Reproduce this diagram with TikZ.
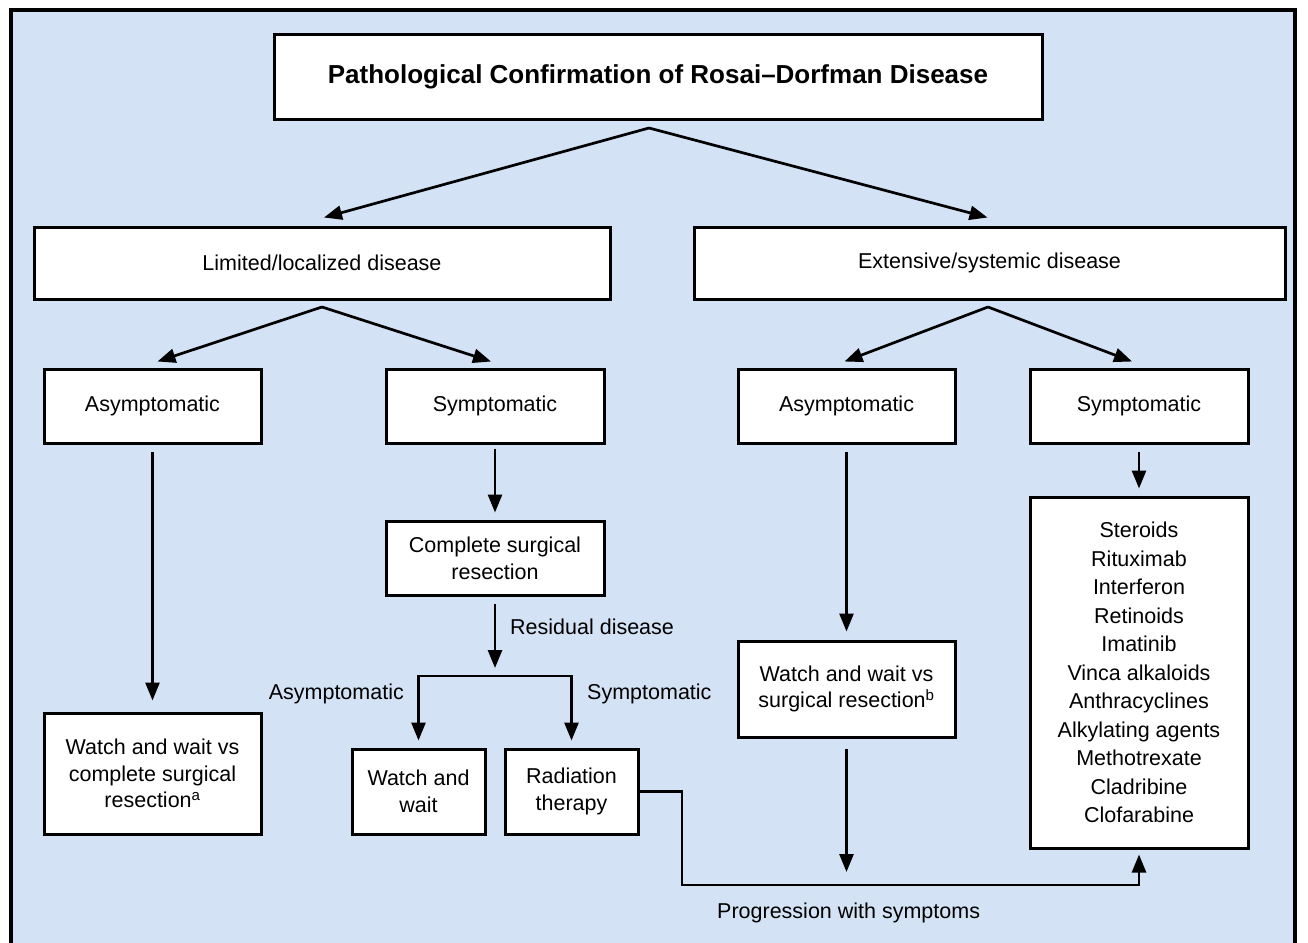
\documentclass[tikz,border=0pt]{standalone}
\usepackage{fontspec}
\setmainfont{Liberation Sans}
\usetikzlibrary{arrows.meta}
\definecolor{panelblue}{RGB}{211,226,244}

\begin{document}
\begin{tikzpicture}[x=1pt,y=-1pt,
  box/.style={draw,fill=white,line width=3pt,align=center,inner sep=0pt,
    font=\fontsize{21.5}{26.7}\selectfont},
  arr/.style={-{Triangle[length=18pt,width=14pt]},line width=2.7pt,
    shorten <=7pt,shorten >=8pt},
  diag/.style={arr,shorten <=0pt,shorten >=0pt},
  lbl/.style={inner sep=0pt,font=\fontsize{21.5}{26.7}\selectfont}]

  \useasboundingbox (0,0) rectangle (1308,942);
  \fill[panelblue] (11,10) rectangle (1295,960);
  \draw[line width=3.4pt] (11,960) -- (11,10) -- (1295,10) -- (1295,960);

  \node[box,minimum width=768pt,minimum height=84pt,
    font=\fontsize{26}{31}\selectfont\bfseries] (title) at (658,77)
    {Pathological Confirmation of Rosai--Dorfman Disease};

  \node[box,minimum width=576pt,minimum height=72pt] (limited) at (322,263) {Limited/localized disease};
  \node[box,minimum width=591pt,minimum height=72pt] (extensive) at (989.5,263) {Extensive/systemic disease};

  \node[box,minimum width=217pt,minimum height=74pt] (lasym) at (152.5,406) {Asymptomatic};
  \node[box,minimum width=218pt,minimum height=74pt] (lsym) at (495,406) {Symptomatic};
  \node[box,minimum width=217pt,minimum height=74pt] (easym) at (846.5,406) {Asymptomatic};
  \node[box,minimum width=218pt,minimum height=74pt] (esym) at (1139,406) {Symptomatic};

  \node[box,minimum width=217pt,minimum height=121pt] (lwatch) at (152.5,773.5)
    {Watch and wait vs\\complete surgical\\resection\textsuperscript{a}};
  \node[box,minimum width=218pt,minimum height=74pt] (lsurg) at (495,558)
    {Complete surgical\\resection};
  \node[box,minimum width=133pt,minimum height=85pt] (wwait) at (418.5,791.5) {Watch and\\wait};
  \node[box,minimum width=133pt,minimum height=85pt] (radio) at (571.5,791.5) {Radiation\\therapy};
  \node[box,minimum width=217pt,minimum height=96pt] (ewatch) at (846.5,689)
    {Watch and wait vs\\surgical resection\textsuperscript{b}};
  \node[box,minimum width=218pt,minimum height=351pt,font=\fontsize{21.5}{28.5}\selectfont] (drugs) at (1139,672.5)
    {Steroids\\Rituximab\\Interferon\\Retinoids\\Imatinib\\Vinca alkaloids\\Anthracyclines\\Alkylating agents\\Methotrexate\\Cladribine\\Clofarabine};

  \coordinate (tapex) at (649,128);
  \coordinate (lapex) at (322,307);
  \coordinate (eapex) at (988,307);
  \coordinate (split) at (495,676);
  \coordinate (pbend) at (682,885);
  \coordinate (pjoin) at (846.5,885);

  \draw[diag] (tapex) -- ([xshift=2pt,yshift=8pt]limited.north);
  \draw[diag] (tapex) -- ([xshift=-2pt,yshift=8pt]extensive.north);
  \draw[diag] (lapex) -- ([xshift=5pt,yshift=6pt]lasym.north);
  \draw[diag] (lapex) -- ([xshift=-4pt,yshift=6pt]lsym.north);
  \draw[diag] (eapex) -- ([xshift=-2pt,yshift=6pt]easym.north);
  \draw[diag] (eapex) -- ([xshift=-7pt,yshift=6pt]esym.north);

  \draw[arr,shorten >=11pt] (lasym) -- (lwatch);
  \draw[arr,shorten <=4pt,shorten >=7pt] (lsym) -- (lsurg);
  \draw[arr] (lsurg) -- (split);
  \draw[arr,shorten <=0pt,shorten >=7pt] (split) -| (wwait);
  \draw[arr,shorten <=0pt,shorten >=7pt] (split) -| (radio);
  \draw[arr] (easym) -- (ewatch);
  \draw[arr,shorten <=10pt,shorten >=13pt] (ewatch) -- (pjoin);
  \draw[arr,shorten >=7pt] (esym) -- (drugs);
  \draw[arr,shorten <=0pt,shorten >=5pt] (radio.east) -| (pbend) -| (drugs);

  \node[lbl,anchor=base west] (residual) at (510,634) {Residual disease};
  \node[lbl,anchor=base east] (basym) at (404,699) {Asymptomatic};
  \node[lbl,anchor=base west] (bsym) at (587,699) {Symptomatic};
  \node[lbl,anchor=base west] (progress) at (717,918) {Progression with symptoms};

\end{tikzpicture}
\end{document}
